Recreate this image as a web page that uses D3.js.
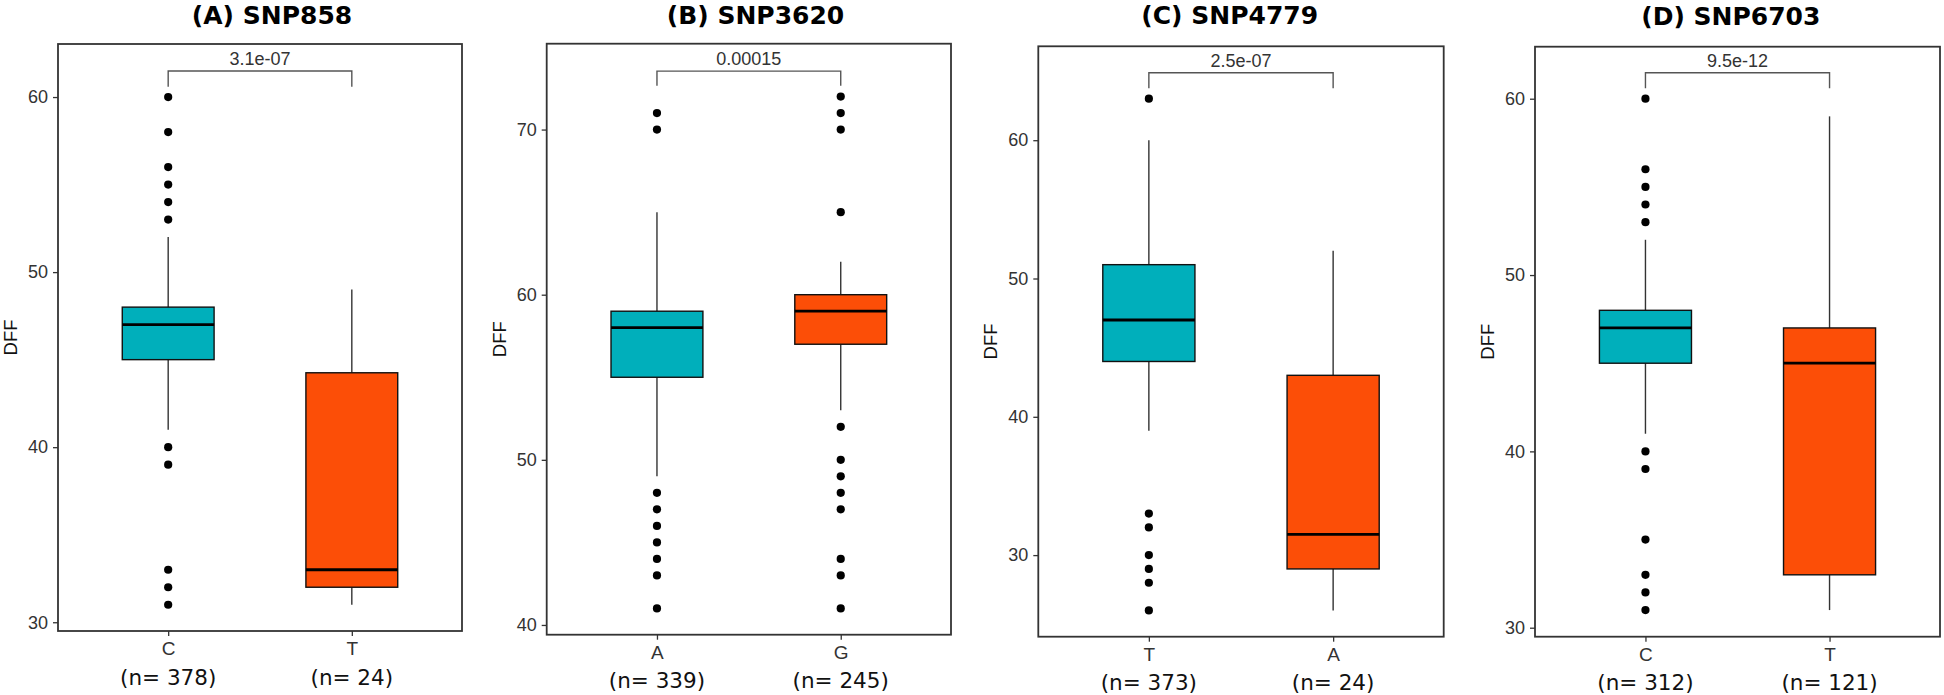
<!DOCTYPE html>
<html>
<head>
<meta charset="utf-8">
<script src="https://cdn.jsdelivr.net/npm/d3@7"></script>
<style>
  html, body { margin: 0; padding: 0; background: #fff; }
  svg { display: block; }
</style>
</head>
<body>
<svg id="chart" width="1944" height="695"></svg>
<script>
// ---------- data ----------
const titles = ["(A) SNP858", "(B) SNP3620", "(C) SNP4779", "(D) SNP6703"];
const pValues = ["3.1e-07", "0.00015", "2.5e-07", "9.5e-12"];
const alleles = [["C", "T"], ["A", "G"], ["T", "A"], ["C", "T"]];
const sampleSizes = [[378, 24], [339, 245], [373, 24], [312, 121]];
const lowerWhiskers = [[41, 31], [49, 53], [39, 26], [41, 31]];
const q1s = [[45, 32], [55, 57], [44, 29], [45, 33]];
const medians = [[47, 33], [58, 59], [47, 31.5], [47, 45]];
const q3s = [[48, 44.25], [59, 60], [51, 43], [48, 47]];
const upperWhiskers = [[52, 49], [65, 62], [60, 52], [52, 59]];
const outliers = [
  [[60, 58, 56, 55, 54, 53, 40, 39, 33, 32, 31], []],
  [[71, 70, 48, 47, 46, 45, 44, 43, 41], [72, 71, 70, 65, 52, 50, 49, 48, 47, 44, 43, 41]],
  [[63, 33, 32, 30, 29, 28, 26], []],
  [[60, 56, 55, 54, 53, 40, 39, 35, 33, 32, 31], []]
];
const yTicks = [[30, 40, 50, 60], [40, 50, 60, 70], [30, 40, 50, 60], [30, 40, 50, 60]];
const yDomains = [[29.5, 63.03], [39.41, 75.2], [24.1, 66.79], [29.49, 62.95]];
const bracketLevels = [[61.49, 60.59], [73.54, 72.65], [64.88, 63.76], [61.47, 60.59]];
const yLabel = "DFF";
const groupColors = ["#00AFBB", "#FC4E07"];

// ---------- layout ----------
const panels = [
  { left: 58, top: 44, right: 462, bottom: 631, titleX: 272, titleY: 23.5 },
  { left: 546.7, top: 43.7, right: 951, bottom: 634.7, titleX: 755.5, titleY: 23.5 },
  { left: 1038.3, top: 46.3, right: 1443.7, bottom: 636.7, titleX: 1229.7, titleY: 23.5 },
  { left: 1535, top: 46.7, right: 1940, bottom: 636.7, titleX: 1730.8, titleY: 24.5 }
];

const svg = d3.select("#chart");
const sansR = "'Liberation Sans', Arial, sans-serif";
const verd = "'DejaVu Sans', Verdana, sans-serif";

panels.forEach((p, i) => {
  const g = svg.append("g");
  const y = d3.scaleLinear().domain(yDomains[i]).range([p.bottom, p.top]);
  const x = d3.scalePoint().domain(alleles[i]).range([p.left, p.right]).padding(0.6);
  const bw = x.step() * 0.5;

  // title
  g.append("text")
    .attr("x", p.titleX).attr("y", p.titleY)
    .attr("text-anchor", "middle")
    .style("font-family", verd).style("font-weight", "bold").style("font-size", "25px")
    .attr("fill", "#000")
    .text(titles[i]);

  // y axis
  const ya = g.append("g").attr("transform", `translate(${p.left},0)`)
    .call(d3.axisLeft(y).tickValues(yTicks[i]).tickSize(5).tickPadding(5));
  ya.select(".domain").remove();
  ya.selectAll(".tick line").attr("stroke", "#333").attr("stroke-width", 1.3);
  ya.selectAll(".tick text").style("font-family", sansR).style("font-size", "18px").attr("fill", "#333");

  // x axis
  const xa = g.append("g").attr("transform", `translate(0,${p.bottom})`)
    .call(d3.axisBottom(x).tickSize(5).tickPadding(5.7));
  xa.select(".domain").remove();
  xa.selectAll(".tick line").attr("stroke", "#333").attr("stroke-width", 1.3);
  xa.selectAll(".tick text").style("font-family", sansR).style("font-size", "19px").attr("fill", "#333");

  // n labels
  g.selectAll(".nlab").data(alleles[i]).enter().append("text")
    .attr("x", d => x(d))
    .attr("y", p.bottom + 53.5)
    .attr("text-anchor", "middle")
    .style("font-family", verd).style("font-size", "21.5px")
    .attr("fill", "#111")
    .text((d, j) => `(n= ${sampleSizes[i][j]})`);

  // y label
  g.append("text")
    .attr("transform", `translate(${p.left - 41},${(p.top + p.bottom) / 2}) rotate(-90)`)
    .attr("text-anchor", "middle")
    .style("font-family", sansR).style("font-size", "18.5px")
    .attr("fill", "#111")
    .text(yLabel);

  // boxes
  alleles[i].forEach((a, j) => {
    const cx = x(a);
    g.append("line").attr("x1", cx).attr("x2", cx)
      .attr("y1", y(upperWhiskers[i][j])).attr("y2", y(q3s[i][j]))
      .attr("stroke", "#333").attr("stroke-width", 1.4);
    g.append("line").attr("x1", cx).attr("x2", cx)
      .attr("y1", y(q1s[i][j])).attr("y2", y(lowerWhiskers[i][j]))
      .attr("stroke", "#333").attr("stroke-width", 1.4);
    g.append("rect")
      .attr("x", cx - bw / 2).attr("width", bw)
      .attr("y", y(q3s[i][j])).attr("height", y(q1s[i][j]) - y(q3s[i][j]))
      .attr("fill", groupColors[j]).attr("stroke", "#111").attr("stroke-width", 1.4);
    g.append("line").attr("x1", cx - bw / 2).attr("x2", cx + bw / 2)
      .attr("y1", y(medians[i][j])).attr("y2", y(medians[i][j]))
      .attr("stroke", "#000").attr("stroke-width", 2.8);
    g.selectAll(null).data(outliers[i][j]).enter().append("circle")
      .attr("cx", cx).attr("cy", d => y(d)).attr("r", 4.1).attr("fill", "#000");
  });

  // bracket
  const [bTop, bTip] = bracketLevels[i];
  const x1 = x(alleles[i][0]), x2 = x(alleles[i][1]);
  g.append("path")
    .attr("d", `M${x1},${y(bTip)}V${y(bTop)}H${x2}V${y(bTip)}`)
    .attr("fill", "none").attr("stroke", "#555").attr("stroke-width", 1.4);
  g.append("text")
    .attr("x", (x1 + x2) / 2).attr("y", y(bTop) - 6)
    .attr("text-anchor", "middle")
    .style("font-family", sansR).style("font-size", "18px")
    .attr("fill", "#333")
    .text(pValues[i]);

  // panel border
  g.append("rect")
    .attr("x", p.left).attr("y", p.top)
    .attr("width", p.right - p.left).attr("height", p.bottom - p.top)
    .attr("fill", "none").attr("stroke", "#333").attr("stroke-width", 1.8);
});
</script>
</body>
</html>
